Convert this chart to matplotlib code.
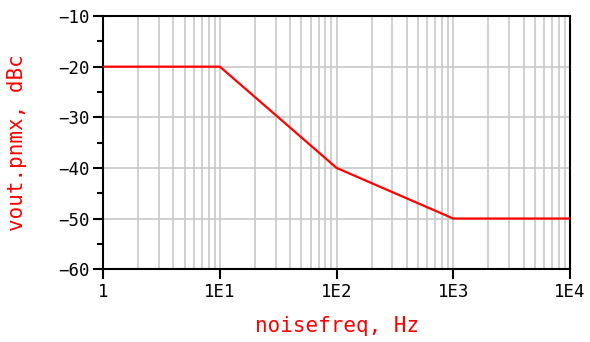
import matplotlib
matplotlib.use("Agg")
import matplotlib.pyplot as plt
from matplotlib.ticker import FixedLocator, NullFormatter

# noise spectrum (piecewise)
freq = [1, 10, 100, 1000, 10000]
level = [-20, -20, -40, -50, -50]
xticks = [1, 10, 100, 1000, 10000]
xlabels = ['1', '1E1', '1E2', '1E3', '1E4']
yticks = [-60, -50, -40, -30, -20, -10]

fig = plt.figure(figsize=(5.9, 3.42), dpi=100)
ax = fig.add_axes([0.175, 0.213, 0.791, 0.74])

ax.plot(freq, level, color='red', lw=1.6, zorder=3)

ax.set_xscale('log')
ax.set_xlim(1, 10000)
ax.set_ylim(-60, -10)

ax.set_xticks(xticks)
ax.set_xticklabels(xlabels)
minors = [m * d for d in (1, 10, 100, 1000) for m in range(2, 10)]
ax.xaxis.set_minor_locator(FixedLocator(minors))
ax.xaxis.set_minor_formatter(NullFormatter())
ax.set_yticks(yticks)
ax.yaxis.set_minor_locator(FixedLocator([-55, -45, -35, -25, -15]))

mono = 'DejaVu Sans Mono'
for lab in ax.get_xticklabels() + ax.get_yticklabels():
    lab.set_family(mono)
    lab.set_fontsize(12.5)

ax.tick_params(axis='both', which='major', direction='out', length=7, width=1.5, pad=3)
ax.tick_params(axis='x', which='minor', length=0)
ax.tick_params(axis='y', which='minor', direction='out', length=4, width=1.5)

ax.grid(True, which='major', color='#c8c8c8', lw=1.2, zorder=0)
ax.grid(True, which='minor', axis='x', color='#c8c8c8', lw=1.2, zorder=0)

for s in ax.spines.values():
    s.set_linewidth(1.5)
    s.set_color('black')

ax.set_xlabel('noisefreq, Hz', color='red', family=mono, fontsize=15, labelpad=11)
ax.set_ylabel('vout.pnmx, dBc', color='red', family=mono, fontsize=15, labelpad=22)

fig.savefig('out.png', dpi=100)
